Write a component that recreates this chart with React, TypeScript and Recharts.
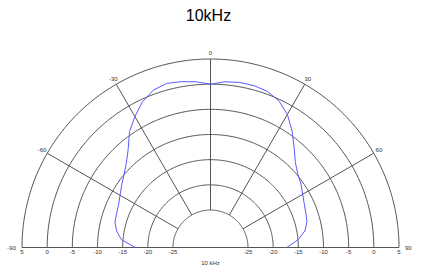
import { RadarChart, PolarGrid, PolarAngleAxis, PolarRadiusAxis, Radar } from "recharts";

// polar response at 10 kHz, level in dB per angle in degrees
const angles = [
  -90, -85, -80, -75, -70, -65, -60, -55, -50, -45, -40, -35, -30, -25, -20, -15, -10, -5, 0,
  5, 10, 15, 20, 25, 30, 35, 40, 45, 50, 55, 60, 65, 70, 75, 80, 85, 90,
];
const levels = [
  -17.5, -14.7, -13.5, -12.8, -12.6, -12.3, -11.7, -10.9, -10.0, -8.8, -7.0, -4.4, -2.4, -0.5, 0.8, 1.3, 1.0, 0.6, 0.0,
  0.6, 0.85, 0.85, 0.55, -0.3, -1.9, -4.2, -6.6, -8.6, -9.8, -10.5, -11.3, -11.9, -12.3, -12.6, -13.4, -15.0, -17.3,
];
const radiusDomain = [-25, 5];
const angleDomain = [-90, 90];

const data = angles.map((a, i) => ({ angle: a, level: levels[i] }));

const CX = 210.5;
const CY = 247.5;
const GRID = "#555";
const BLUE = "#5a5aff";
const FONT = "'Liberation Sans', Arial, sans-serif";

// semicircle rings: polygon through every degree, closing edge lies on the baseline
const ringAngles = Array.from({ length: 181 }, (_, i) => 180 - i);

const OpenLine = (props: any) => {
  const pts = (props.points || []) as { x: number; y: number }[];
  const d = pts.map((p, i) => `${i ? "L" : "M"}${p.x},${p.y}`).join(" ");
  return <path d={d} fill="none" stroke={BLUE} strokeWidth={1} />;
};

const AngleTick = (props: any) => {
  const { x, y, payload } = props;
  const v = payload.value;
  const anchor = v === -90 ? "end" : v === 90 ? "start" : "middle";
  return (
    <text x={x} y={y} textAnchor={anchor} dominantBaseline="central" fontSize={6} fill="#333" fontFamily={FONT}>
      {v}
    </text>
  );
};

const RadiusTick = (props: any) => {
  const { x, y, payload } = props;
  return (
    <g>
      <text x={x} y={y + 4} textAnchor="middle" dominantBaseline="central" fontSize={6} fill="#333" fontFamily={FONT}>
        {payload.value}
      </text>
      <text x={2 * CX - x} y={y + 4} textAnchor="middle" dominantBaseline="central" fontSize={6} fill="#333" fontFamily={FONT}>
        {payload.value}
      </text>
    </g>
  );
};

export default function App() {
  return (
    <div style={{ position: "absolute", left: 0, top: 0, width: 422, height: 270, background: "#fff" }}>
      <div
        style={{
          position: "absolute",
          left: 0,
          top: 8,
          width: 417,
          textAlign: "center",
          fontFamily: FONT,
          fontSize: 16,
          lineHeight: "16px",
          color: "#000",
        }}
      >
        10kHz
      </div>
      <RadarChart
        width={422}
        height={270}
        data={data}
        cx={CX}
        cy={CY}
        innerRadius={37.5}
        outerRadius={188.5}
        startAngle={180}
        endAngle={0}
        margin={{ top: 0, right: 0, bottom: 0, left: 0 }}
      >
        <PolarGrid gridType="polygon" polarAngles={ringAngles} radialLines={false} stroke={GRID} />
        <PolarGrid polarRadius={[]} stroke={GRID} />
        <PolarAngleAxis
          dataKey="angle"
          type="number"
          domain={angleDomain}
          tickCount={7}
          tickSize={6}
          tickLine={false}
          axisLine={false}
          tick={<AngleTick />}
        />
        <PolarRadiusAxis
          angle={180}
          domain={radiusDomain}
          tickCount={7}
          axisLine={false}
          tickLine={false}
          tick={<RadiusTick />}
        />
        <Radar dataKey="level" isAnimationActive={false} shape={<OpenLine />} stroke={BLUE} fill="none" />
      </RadarChart>
      <div
        style={{
          position: "absolute",
          left: 0,
          top: 260,
          width: 421,
          textAlign: "center",
          fontFamily: FONT,
          fontSize: 6,
          lineHeight: "6px",
          color: "#333",
        }}
      >
        10 kHz
      </div>
    </div>
  );
}
